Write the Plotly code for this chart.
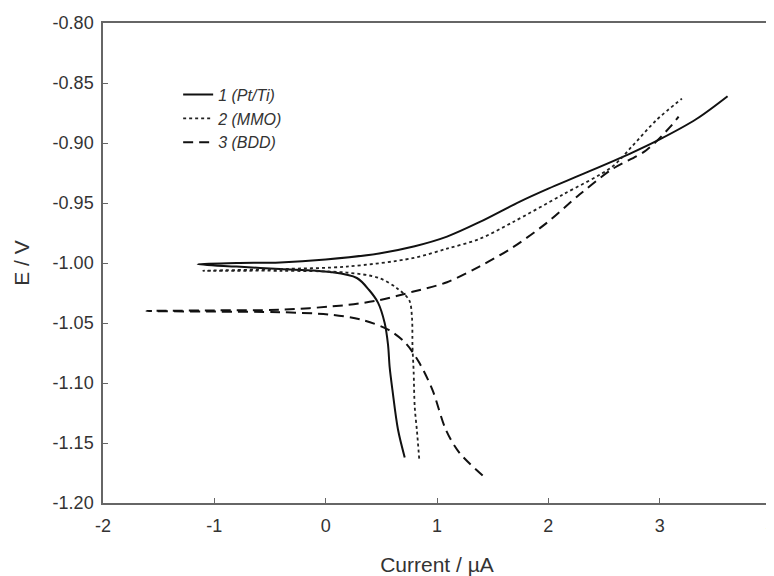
import plotly.graph_objects as go

# Curve 1 (Pt/Ti): cathodic end -> left tip -> anodic end
i_pt = [0.71, 0.65, 0.60, 0.575, 0.56, 0.53, 0.47, 0.39, 0.28, 0.04, -0.41, -0.8, -1.15,
        -0.8, -0.41, 0.0, 0.48, 0.8, 1.09, 1.38, 1.74, 2.0, 2.28, 2.73, 3.0, 3.33, 3.61]
e_pt = [-1.162, -1.139, -1.106, -1.087, -1.068, -1.050, -1.033, -1.0225, -1.0125, -1.0075, -1.005, -1.003, -1.001,
        -1.0, -0.9995, -0.997, -0.992, -0.986, -0.978, -0.966, -0.949, -0.938, -0.927, -0.909, -0.897, -0.880, -0.861]

# Curve 2 (MMO)
i_mmo = [0.84, 0.82, 0.80, 0.79, 0.78, 0.775, 0.75, 0.64, 0.48, 0.19, -0.4, -1.1,
         -0.4, 0.19, 0.78, 1.09, 1.38, 1.68, 2.13, 2.57, 2.75, 2.97, 3.2]
e_mmo = [-1.163, -1.14, -1.12, -1.09, -1.07, -1.045, -1.031, -1.021, -1.0125, -1.008, -1.0065, -1.0065,
         -1.005, -1.003, -0.996, -0.988, -0.980, -0.966, -0.943, -0.920, -0.903, -0.881, -0.863]

# Curve 3 (BDD)
i_bdd = [1.41, 1.2, 1.08, 0.96, 0.84, 0.72, 0.57, 0.33, 0.04, -0.41, -1.0, -1.61,
         -1.0, -0.41, 0.19, 0.48, 0.78, 1.09, 1.38, 1.68, 1.98, 2.28, 2.57, 2.88, 3.09, 3.17]
e_bdd = [-1.177, -1.158, -1.139, -1.106, -1.083, -1.067, -1.056, -1.0475, -1.043, -1.041, -1.0405, -1.040,
         -1.0395, -1.039, -1.035, -1.031, -1.024, -1.016, -1.003, -0.987, -0.967, -0.943, -0.922, -0.906, -0.887, -0.878]

names = ["<i>1 (Pt/Ti)</i>", "<i>2 (MMO)</i>", "<i>3 (BDD)</i>"]

x_ticks = [-2, -1, 0, 1, 2, 3, 4]
y_ticks = [-1.20, -1.15, -1.10, -1.05, -1.00, -0.95, -0.90, -0.85, -0.80]

fig = go.Figure()
fig.add_trace(go.Scatter(x=i_pt, y=e_pt, mode="lines", name=names[0],
                         line=dict(color="#111111", width=2, shape="spline", smoothing=0.9)))
fig.add_trace(go.Scatter(x=i_mmo, y=e_mmo, mode="lines", name=names[1],
                         line=dict(color="#222222", width=1.8, dash="dot", shape="spline", smoothing=0.9)))
fig.add_trace(go.Scatter(x=i_bdd, y=e_bdd, mode="lines", name=names[2],
                         line=dict(color="#111111", width=2, dash="10px,6px", shape="spline", smoothing=0.9)))

axis_common = dict(
    showgrid=False, zeroline=False, showline=True, linecolor="#666666", linewidth=1.5,
    mirror=True, ticks="inside", ticklen=5, tickcolor="#666666", tickwidth=1,
    tickfont=dict(family="Liberation Sans, Arial, sans-serif", size=18, color="#333333"),
)

fig.update_layout(
    width=774, height=576,
    margin=dict(l=95, r=11, t=15, b=81, autoexpand=False),
    paper_bgcolor="white", plot_bgcolor="white",
    font=dict(family="Liberation Sans, Arial, sans-serif", color="#333333"),
    xaxis=dict(range=[-2, 4], tickvals=x_ticks, ticktext=[str(v) for v in x_ticks],
               ticklabelstandoff=6,
               title=dict(text="Current / µA", font=dict(size=21), standoff=22),
               **axis_common),
    yaxis=dict(range=[-1.20, -0.80], tickvals=y_ticks, ticktext=[f"{v:.2f}" for v in y_ticks],
               ticklabelstandoff=4,
               title=dict(text="E / V", font=dict(size=21), standoff=17),
               **axis_common),
    legend=dict(x=0.1125, y=0.886, xanchor="left", yanchor="top", bgcolor="rgba(0,0,0,0)",
                font=dict(size=16, color="#333333"), tracegroupgap=0),
    showlegend=True,
)

fig.write_html("out.html")
